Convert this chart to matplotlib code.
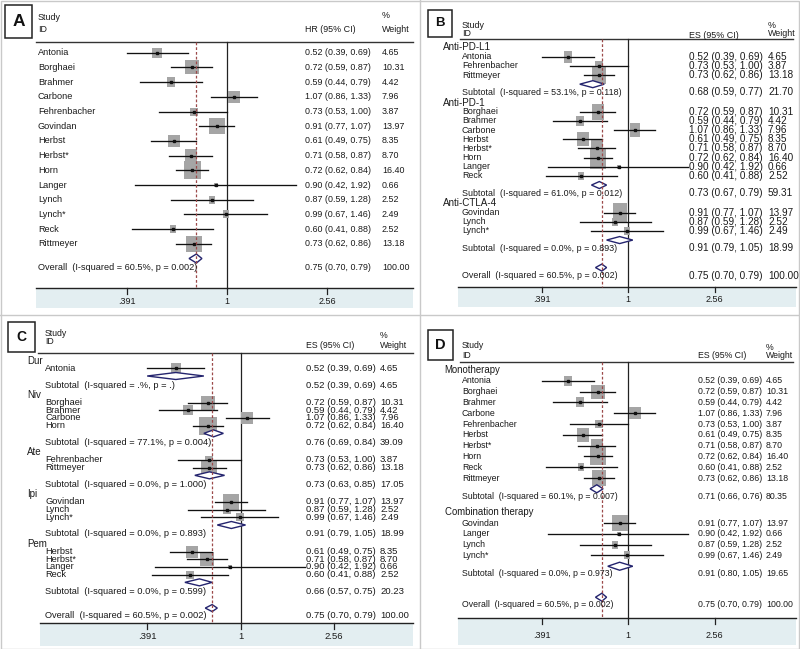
import numpy as np
import matplotlib.pyplot as plt
from matplotlib.path import Path
from matplotlib.patches import Rectangle
from matplotlib.lines import Line2D

plt.rcParams['font.family'] = ['Liberation Sans', 'DejaVu Sans']

W, H = 800, 649

# ---- data ----
studies = ['Antonia', 'Borghaei', 'Brahmer', 'Carbone', 'Fehrenbacher', 'Govindan',
           'Herbst', 'Herbst*', 'Horn', 'Langer', 'Lynch', 'Lynch*', 'Reck', 'Rittmeyer']
hr = [0.52, 0.72, 0.59, 1.07, 0.73, 0.91, 0.61, 0.71, 0.72, 0.90, 0.87, 0.99, 0.60, 0.73]
hr_lo = [0.39, 0.59, 0.44, 0.86, 0.53, 0.77, 0.49, 0.58, 0.62, 0.42, 0.59, 0.67, 0.41, 0.62]
hr_hi = [0.69, 0.87, 0.79, 1.33, 1.00, 1.07, 0.75, 0.87, 0.84, 1.92, 1.28, 1.46, 0.88, 0.86]
weight = [4.65, 10.31, 4.42, 7.96, 3.87, 13.97, 8.35, 8.70, 16.40, 0.66, 2.52, 2.49, 2.52, 13.18]

overall_es, overall_lo, overall_hi, overall_wt = 0.75, 0.70, 0.79, 100.00
overall_het = '60.5%, p = 0.002'

b_groups = ['Anti-PD-L1', 'Anti-PD-1', 'Anti-CTLA-4']
b_members = [['Antonia', 'Fehrenbacher', 'Rittmeyer'],
             ['Borghaei', 'Brahmer', 'Carbone', 'Herbst', 'Herbst*', 'Horn', 'Langer', 'Reck'],
             ['Govindan', 'Lynch', 'Lynch*']]
b_sub_es = [0.68, 0.73, 0.91]
b_sub_lo = [0.59, 0.67, 0.79]
b_sub_hi = [0.77, 0.79, 1.05]
b_sub_wt = [21.70, 59.31, 18.99]
b_sub_het = ['53.1%, p = 0.118', '61.0%, p = 0.012', '0.0%, p = 0.893']

c_groups = ['Dur', 'Niv', 'Ate', 'Ipi', 'Pem']
c_members = [['Antonia'],
             ['Borghaei', 'Brahmer', 'Carbone', 'Horn'],
             ['Fehrenbacher', 'Rittmeyer'],
             ['Govindan', 'Lynch', 'Lynch*'],
             ['Herbst', 'Herbst*', 'Langer', 'Reck']]
c_sub_es = [0.52, 0.76, 0.73, 0.91, 0.66]
c_sub_lo = [0.39, 0.69, 0.63, 0.79, 0.57]
c_sub_hi = [0.69, 0.84, 0.85, 1.05, 0.75]
c_sub_wt = [4.65, 39.09, 17.05, 18.99, 20.23]
c_sub_het = ['.%, p = .', '77.1%, p = 0.004', '0.0%, p = 1.000', '0.0%, p = 0.893', '0.0%, p = 0.599']

d_groups = ['Monotherapy', 'Combination therapy']
d_members = [['Antonia', 'Borghaei', 'Brahmer', 'Carbone', 'Fehrenbacher', 'Herbst',
              'Herbst*', 'Horn', 'Reck', 'Rittmeyer'],
             ['Govindan', 'Langer', 'Lynch', 'Lynch*']]
d_sub_es = [0.71, 0.91]
d_sub_lo = [0.66, 0.80]
d_sub_hi = [0.76, 1.05]
d_sub_wt = [80.35, 19.65]
d_sub_het = ['60.1%, p = 0.007', '0.0%, p = 0.973']

ticks = [0.391, 1, 2.56]
tick_labels = ['.391', '1', '2.56']

# ---- layout (pixels from top-left) ----
layout = {
    'A': dict(rect=(0, 0, 420, 315), box=(5, 5, 32, 38), fs_box=12.5,
              one=227, scale=106.4, row=14.7, first=52.7,
              head_x=38, name_x=38, es_x=305, wt_x=382,
              study_y=17, id_y=30, es_head_y=30, pct_y=15, wgt_y=30, es_label='HR (95% CI)',
              hline=(36, 413, 41.5), axis=(36, 413, 288, 308), tick_y=302,
              gap_group=2, gap_overall=1, text_off=9, over_off=9,
              box_max=(17, 18), dia_h=9,
              fs_name=6.6, fs_head=7, fs_col=6.4, fs_hdr=6.4, fs_tick=6.5),
    'B': dict(rect=(420, 0, 800, 315), box=(428, 10, 452, 37), fs_box=9.5,
              one=628.3, scale=92.0, row=9.17, first=47.5,
              head_x=443, name_x=462, es_x=689, wt_x=768,
              study_y=25, id_y=34, es_head_y=35, pct_y=26, wgt_y=34, es_label='ES (95% CI)',
              hline=(460, 793, 39), axis=(458, 796, 286.7, 307), tick_y=300,
              gap_group=2, gap_overall=3, text_off=8.3, over_off=8.3,
              box_max=(15.5, 21), dia_h=7,
              fs_name=6.4, fs_head=7.1, fs_col=7.2, fs_hdr=6.4, fs_tick=6.5),
    'C': dict(rect=(0, 315, 420, 649), box=(8, 322, 35, 352), fs_box=10,
              one=240.7, scale=99.3, row=7.7, first=360.6,
              head_x=27, name_x=45, es_x=306, wt_x=380,
              study_y=333, id_y=342, es_head_y=345, pct_y=336, wgt_y=345, es_label='ES (95% CI)',
              hline=(38, 413, 353.3), axis=(40, 413, 623.3, 646), tick_y=636.7,
              gap_group=2.45, gap_overall=3.34, text_off=9, over_off=7.3,
              box_max=(18, 18), dia_h=7,
              fs_name=6.7, fs_head=7.0, fs_col=6.8, fs_hdr=6.3, fs_tick=6.8),
    'D': dict(rect=(420, 315, 800, 649), box=(428, 330, 453, 360), fs_box=10.5,
              one=628.3, scale=92.0, row=10.8, first=370,
              head_x=444.7, name_x=462, es_x=697.7, wt_x=766,
              study_y=345, id_y=355, es_head_y=355, pct_y=347, wgt_y=356, es_label='ES (95% CI)',
              hline=(460, 793, 362.3), axis=(458, 796, 618.3, 645), tick_y=635,
              gap_group=2.17, gap_overall=2.87, text_off=7.3, over_off=7.3,
              box_max=(16.7, 18.3), dia_h=8,
              fs_name=6.3, fs_head=6.9, fs_col=6.3, fs_hdr=6.3, fs_tick=6.5),
}

TXT = '#1a1a1a'
BOXC = '#a5a5a5'
DIAC = '#24246e'
DASHC = '#9c4a4a'
BAND = '#e3eef1'


def draw_panel(fig, letter, groups, members, sub_es=None, sub_lo=None, sub_hi=None,
               sub_wt=None, sub_het=None):
    g = layout[letter]
    x0, y0, x1, y1 = g['rect']
    ax = fig.add_axes([x0 / W, 1 - y1 / H, (x1 - x0) / W, (y1 - y0) / H])
    ax.set_xscale('log')
    X = lambda px: np.exp((px - g['one']) / g['scale'])
    ax.set_xlim(X(x0), X(x1))
    ax.set_ylim(y1, y0)
    ax.axis('off')

    s = g['row']
    bw, bh = g['box_max']
    marker = Path([(-bw, -bh), (bw, -bh), (bw, bh), (-bw, bh), (-bw, -bh)], closed=True)
    wmax = max(weight)

    # row positions
    y = g['first']
    head_rows, study_rows, sub_rows = [], [], []
    for k, grp in enumerate(members):
        if groups is not None:
            head_rows.append((groups[k], y))
            y += s
        for name in grp:
            study_rows.append((studies.index(name), y))
            y += s
        if groups is not None:
            sub_rows.append((k, y))
            y += g['gap_group'] * s
    if groups is not None:
        y = sub_rows[-1][1] + g['gap_overall'] * s
    overall_y = y

    hx0, hx1, hy = g['hline']
    ax_x0, ax_x1, axis_y, band_y = g['axis']

    # header
    ax.plot([X(hx0), X(hx1)], [hy, hy], color='#333333', lw=1.0)
    ax.text(X(g['name_x']), g['study_y'], 'Study', fontsize=g['fs_hdr'], color=TXT, va='center')
    ax.text(X(g['name_x']), g['id_y'], 'ID', fontsize=g['fs_hdr'], color=TXT, va='center')
    ax.text(X(g['es_x']), g['es_head_y'], g['es_label'], fontsize=g['fs_hdr'], color=TXT, va='center')
    ax.text(X(g['wt_x']), g['pct_y'], '%', fontsize=g['fs_hdr'], color=TXT, va='center')
    ax.text(X(g['wt_x']), g['wgt_y'], 'Weight', fontsize=g['fs_hdr'], color=TXT, va='center')

    # label box
    bx0, by0, bx1, by1 = g['box']
    ax.add_patch(Rectangle((X(bx0), by0), X(bx1) - X(bx0), by1 - by0, fill=False,
                           ec='#222222', lw=1.1, clip_on=False))
    ax.text(np.sqrt(X(bx0) * X(bx1)), (by0 + by1) / 2, letter, fontsize=g['fs_box'],
            fontweight='bold', ha='center', va='center', color='#111111')

    # reference lines
    ax.plot([1, 1], [hy, axis_y], color='#222222', lw=0.9, zorder=2)
    ax.plot([overall_es, overall_es], [hy, axis_y], color=DASHC, lw=0.9,
            dashes=(2.2, 1.6), zorder=6)

    # axis + band
    ax.fill_between([X(ax_x0), X(ax_x1)], axis_y, band_y, color=BAND, lw=0, zorder=0)
    ax.plot([X(ax_x0), X(ax_x1)], [axis_y, axis_y], color='#222222', lw=1.0)
    for t, lab in zip(ticks, tick_labels):
        ax.plot([t, t], [axis_y, axis_y + 5.5], color='#222222', lw=0.9)
        ax.text(t, g['tick_y'], lab, ha='center', va='center', fontsize=g['fs_tick'], color=TXT)

    # group headings
    for name, yy in head_rows:
        ax.text(X(g['head_x']), yy, name, fontsize=g['fs_head'], color=TXT, va='center')

    # studies
    for i, yy in study_rows:
        ms = max(bw, bh) * np.sqrt(weight[i] / wmax) * 0.72
        ax.scatter([hr[i]], [yy], s=ms ** 2, marker=marker, color=BOXC, lw=0, zorder=3)
        ax.plot([hr_lo[i], hr_hi[i]], [yy, yy], color='#111111', lw=0.95, zorder=4)
        ax.plot([hr[i]], [yy], marker='s', ms=1.8, color='#111111', zorder=5)
        ax.text(X(g['name_x']), yy, studies[i], fontsize=g['fs_name'], color=TXT, va='center')
        ax.text(X(g['es_x']), yy, f'{hr[i]:.2f} ({hr_lo[i]:.2f}, {hr_hi[i]:.2f})',
                fontsize=g['fs_col'], color=TXT, va='center')
        ax.text(X(g['wt_x']), yy, f'{weight[i]:.2f}', fontsize=g['fs_col'], color=TXT, va='center')

    def diamond(e, l, h, yy):
        d = g['dia_h'] / 2
        ax.fill([l, e, h, e, l], [yy, yy - d, yy, yy + d, yy], facecolor='white',
                edgecolor=DIAC, lw=1.0, zorder=5)

    # subtotals
    for k, yy in sub_rows:
        diamond(sub_es[k], sub_lo[k], sub_hi[k], yy)
        ty = yy + g['text_off']
        ax.text(X(g['name_x']), ty, f'Subtotal  (I-squared = {sub_het[k]})',
                fontsize=g['fs_name'], color=TXT, va='center', zorder=7)
        ax.text(X(g['es_x']), ty, f'{sub_es[k]:.2f} ({sub_lo[k]:.2f}, {sub_hi[k]:.2f})',
                fontsize=g['fs_col'], color=TXT, va='center')
        ax.text(X(g['wt_x']), ty, f'{sub_wt[k]:.2f}', fontsize=g['fs_col'], color=TXT, va='center')

    # overall
    diamond(overall_es, overall_lo, overall_hi, overall_y)
    ty = overall_y + g['over_off']
    ax.text(X(g['name_x']), ty, f'Overall  (I-squared = {overall_het})',
            fontsize=g['fs_name'], color=TXT, va='center', zorder=7)
    ax.text(X(g['es_x']), ty, f'{overall_es:.2f} ({overall_lo:.2f}, {overall_hi:.2f})',
            fontsize=g['fs_col'], color=TXT, va='center')
    ax.text(X(g['wt_x']), ty, f'{overall_wt:.2f}', fontsize=g['fs_col'], color=TXT, va='center')
    return ax


fig = plt.figure(figsize=(W / 100, H / 100), dpi=100)
fig.patch.set_facecolor('white')

draw_panel(fig, 'A', None, [studies])
draw_panel(fig, 'B', b_groups, b_members, b_sub_es, b_sub_lo, b_sub_hi, b_sub_wt, b_sub_het)
draw_panel(fig, 'C', c_groups, c_members, c_sub_es, c_sub_lo, c_sub_hi, c_sub_wt, c_sub_het)
draw_panel(fig, 'D', d_groups, d_members, d_sub_es, d_sub_lo, d_sub_hi, d_sub_wt, d_sub_het)

# panel separators
sep = '#c9c9c9'
fig.add_artist(Line2D([420 / W, 420 / W], [0, 1], color=sep, lw=1.0, transform=fig.transFigure))
fig.add_artist(Line2D([0, 1], [1 - 315 / H, 1 - 315 / H], color=sep, lw=1.0, transform=fig.transFigure))
fig.add_artist(Rectangle((0.5 / W, 0.5 / H), 1 - 1.5 / W, 1 - 1.5 / H, fill=False, ec=sep, lw=1.0,
                         transform=fig.transFigure))

fig.savefig('out.png', dpi=100)
